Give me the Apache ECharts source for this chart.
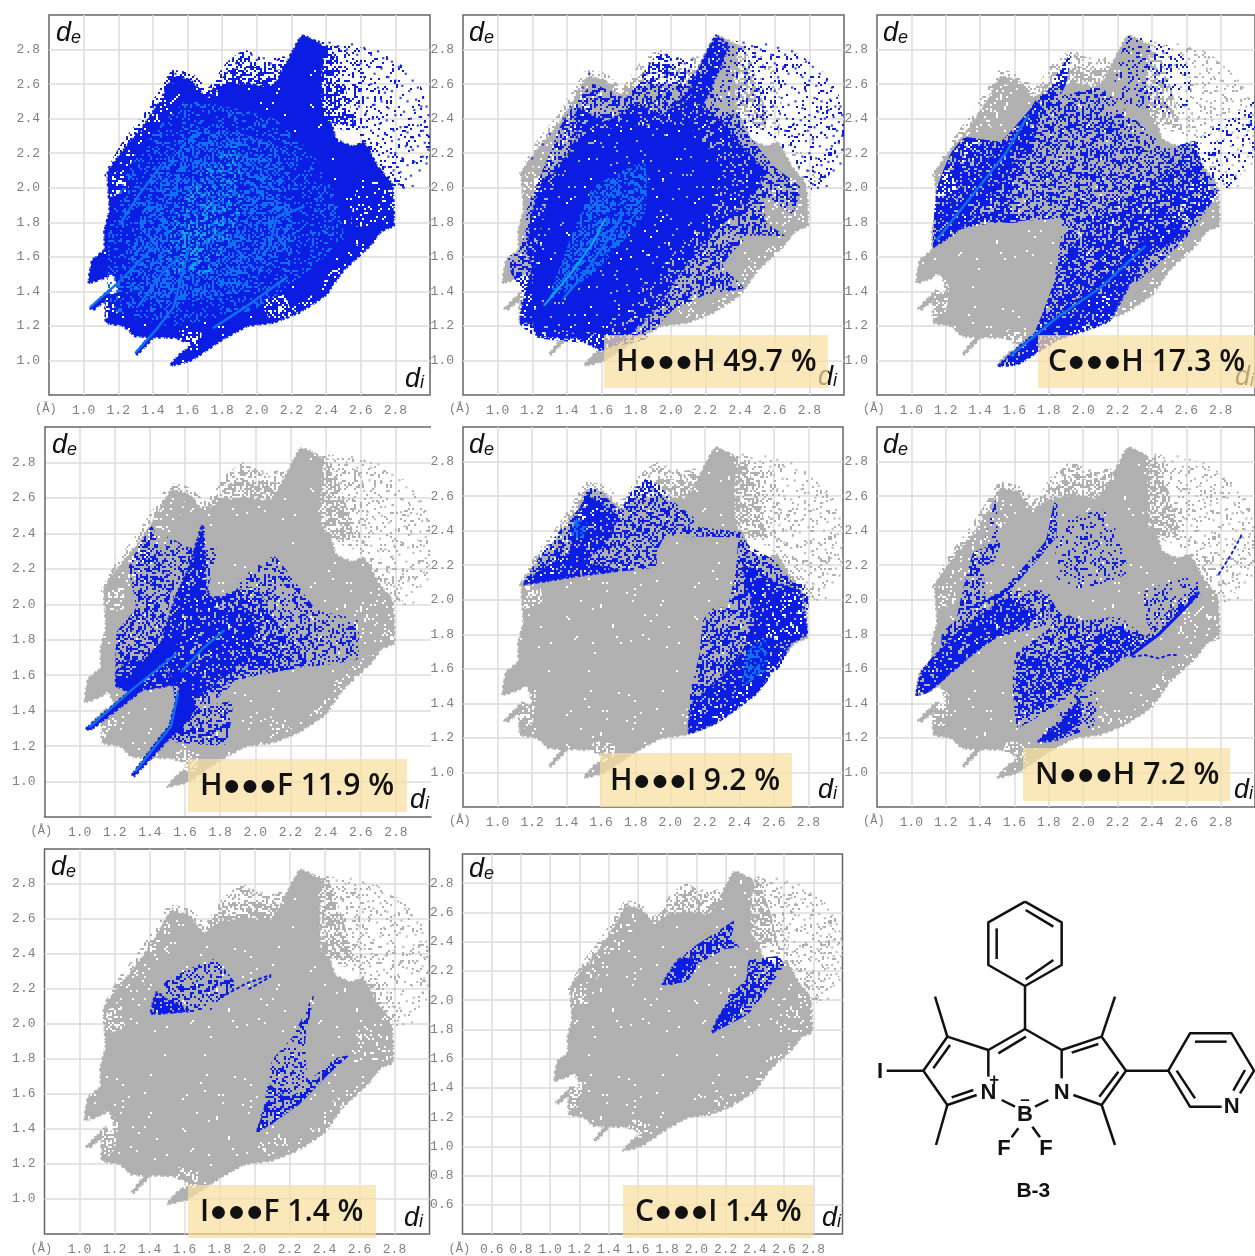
<!DOCTYPE html>
<html><head><meta charset="utf-8">
<style>html,body{margin:0;padding:0;background:#fff;overflow:hidden}#c{width:1255px;height:1256px}</style>
<script src="https://cdn.jsdelivr.net/npm/echarts@6/dist/echarts.min.js"></script>
</head><body><div id="c"></div>
<script>
// ---------- values (di, de) ----------
const tickStep = 0.2;
const cloudCore = [[1.03,1.45],[1.05,1.58],[1.12,1.64],[1.12,1.75],[1.15,1.87],[1.14,2.09],[1.24,2.23],[1.34,2.35],[1.44,2.5],[1.52,2.64],[1.62,2.62],[1.71,2.52],[1.8,2.58],[1.95,2.6],[2.08,2.58],[2.13,2.64],[2.26,2.88],[2.38,2.82],[2.37,2.62],[2.38,2.42],[2.43,2.37],[2.46,2.28],[2.55,2.24],[2.62,2.26],[2.7,2.12],[2.78,2.02],[2.79,1.78],[2.72,1.75],[2.66,1.67],[2.5,1.52],[2.4,1.38],[2.25,1.28],[2.1,1.22],[1.95,1.2],[1.8,1.12],[1.62,1.0],[1.5,0.97],[1.55,1.03],[1.62,1.09],[1.53,1.13],[1.3,1.14],[1.23,1.2],[1.13,1.22],[1.13,1.36],[1.2,1.4],[1.17,1.5],[1.1,1.47]];
const spikeA = [[1.04,1.3],[1.15,1.41],[1.17,1.39],[1.06,1.295]];
const spikeB = [[1.3,1.04],[1.38,1.14],[1.4,1.13],[1.31,1.035]];
const fringeTop = [[1.56,2.56],[1.63,2.66],[1.72,2.58],[1.82,2.72],[1.93,2.8],[2.05,2.74],[2.16,2.76],[2.2,2.62],[2.05,2.5],[1.8,2.5]];
const fringeTopDense = [[1.62,2.55],[1.72,2.55],[1.84,2.68],[1.96,2.7],[2.14,2.68],[2.1,2.52],[1.8,2.5]];
const rimLeft = [[1.12,2.07],[1.22,2.26],[1.32,2.39],[1.42,2.54],[1.51,2.68],[1.62,2.66],[1.6,2.5],[1.42,2.38],[1.3,2.2],[1.2,2.05]];
const arcAll = [[2.3,2.85],[2.45,2.84],[2.7,2.79],[2.85,2.7],[2.95,2.58],[3.0,2.45],[3.0,2.2],[2.92,2.08],[2.82,1.98],[2.78,2.05],[2.6,2.28],[2.45,2.38],[2.3,2.45]];
const arcNear = [[2.26,2.86],[2.42,2.83],[2.6,2.74],[2.64,2.5],[2.62,2.3],[2.42,2.36],[2.3,2.42]];
const arcClose = [[2.26,2.84],[2.42,2.82],[2.5,2.62],[2.56,2.36],[2.3,2.42]];
const arcLow = [[2.6,2.28],[2.72,2.25],[2.82,2.12],[2.84,2.0],[2.78,2.0],[2.68,2.14]];
const holesLeft = [[1.15,1.95],[1.26,1.98],[1.24,2.1],[1.16,2.08]];
const holesNotch = [[1.12,1.24],[1.2,1.28],[1.22,1.45],[1.14,1.5],[1.13,1.36]];
const holesBottom = [[1.52,1.07],[1.66,1.06],[1.68,1.16],[1.56,1.18]];
const holesEdge = [[2.2,1.26],[2.08,1.24],[2.02,1.34],[2.16,1.38]];
const holesRim = [[2.5,1.5],[2.66,1.65],[2.7,1.72],[2.62,1.7],[2.45,1.56],[2.35,1.4],[2.2,1.3],[2.25,1.27],[2.42,1.38]];
const holesRight = [[2.55,1.78],[2.78,1.8],[2.78,2.05],[2.58,2.0]];
const holesUpperLeft = [[1.2,2.12],[1.34,2.34],[1.5,2.6],[1.6,2.58],[1.55,2.45],[1.42,2.3],[1.3,2.12]];
const sparsePts = [[2.42,2.84],[2.47,2.82],[2.52,2.8],[2.55,2.83],[2.58,2.77],[2.62,2.81],[2.66,2.77],[2.7,2.79],[2.73,2.75],[2.78,2.73],[2.82,2.7],[2.86,2.66],[2.9,2.62],[2.93,2.58],[2.96,2.52],[2.98,2.47],[2.99,2.42],[2.6,2.72],[2.65,2.7],[2.68,2.66],[2.72,2.69],[2.76,2.64],[2.8,2.62],[2.84,2.59],[2.88,2.56],[2.92,2.51],[2.95,2.47],[2.62,2.64],[2.66,2.6],[2.7,2.58],[2.74,2.55],[2.78,2.56],[2.83,2.52],[2.87,2.5],[2.91,2.45],[2.94,2.41],[2.97,2.38],[2.6,2.56],[2.64,2.52],[2.68,2.48],[2.72,2.5],[2.76,2.46],[2.8,2.42],[2.85,2.44],[2.89,2.4],[2.93,2.36],[2.96,2.33],[2.99,2.3],[2.59,2.47],[2.63,2.43],[2.67,2.4],[2.71,2.37],[2.75,2.39],[2.79,2.33],[2.83,2.35],[2.87,2.32],[2.9,2.29],[2.94,2.3],[2.97,2.26],[2.99,2.22],[2.62,2.35],[2.66,2.33],[2.7,2.3],[2.74,2.31],[2.78,2.27],[2.82,2.28],[2.86,2.24],[2.9,2.22],[2.93,2.24],[2.96,2.18],[2.98,2.14],[2.8,2.2],[2.84,2.17],[2.87,2.13],[2.91,2.15],[2.94,2.1],[2.83,2.09],[2.86,2.05],[2.89,2.07],[2.82,2.02],[2.85,2.0],[2.9,2.01],[2.76,2.18],[2.74,2.12],[2.79,2.1],[1.97,2.77],[2.0,2.74],[2.04,2.75],[2.08,2.72],[2.12,2.74],[1.88,2.72],[1.53,2.66],[1.49,2.58],[1.42,2.47],[1.38,2.4],[1.3,2.31],[1.26,2.25],[1.2,2.17]];
// H...H
const hhMid = [[1.06,1.6],[1.12,1.63],[1.16,1.75],[1.17,1.88],[1.28,2.15],[1.36,2.35],[1.44,2.48],[1.55,2.6],[1.65,2.56],[1.74,2.52],[1.84,2.66],[1.93,2.78],[2.1,2.55],[2.35,2.42],[2.6,2.12],[2.75,2.0],[2.7,1.85],[2.55,1.95],[2.55,1.8],[2.66,1.72],[2.45,1.72],[2.3,1.55],[2.42,1.42],[2.2,1.38],[2.0,1.28],[1.85,1.12],[1.65,1.08],[1.5,1.1],[1.23,1.13],[1.13,1.21],[1.14,1.4],[1.08,1.5]];
const hhDense = [[1.13,1.22],[1.2,1.22],[1.23,1.14],[1.46,1.13],[1.6,1.06],[1.72,1.12],[1.9,1.28],[2.05,1.5],[2.2,1.7],[2.36,1.85],[2.5,2.0],[2.54,2.1],[2.4,2.25],[2.27,2.4],[2.15,2.48],[2.1,2.55],[1.95,2.42],[1.81,2.48],[1.62,2.38],[1.46,2.46],[1.46,2.3],[1.35,2.1],[1.27,2.05],[1.21,1.89],[1.17,1.64],[1.2,1.55],[1.16,1.38]];
const hhCore = [[1.2,1.25],[1.55,1.15],[1.9,1.5],[2.2,1.85],[2.3,2.1],[2.1,2.35],[1.75,2.35],[1.5,2.3],[1.3,1.95],[1.22,1.6]];
const hhSpike = [[2.08,2.5],[2.26,2.88],[2.33,2.82],[2.22,2.55],[2.15,2.42]];
const hhTop = [[1.84,2.5],[1.93,2.78],[2.12,2.72],[2.14,2.5]];
const hhUpper = [[2.26,2.85],[2.5,2.78],[2.58,2.5],[2.5,2.3],[2.3,2.4],[2.2,2.55]];
const hhGlowA = [[1.27,1.32],[1.42,1.5],[1.55,1.68],[1.62,1.82]];
const hhGlowB = [[1.38,1.36],[1.5,1.5],[1.65,1.72],[1.72,1.85]];
const hhGlowArea = [[1.3,1.35],[1.55,1.5],[1.85,1.85],[1.85,2.15],[1.55,2.0],[1.4,1.65]];
// C...H
const chBand = [[1.13,1.8],[1.15,2.0],[1.23,2.2],[1.31,2.29],[1.52,2.27],[1.67,2.42],[1.75,2.54],[1.95,2.52],[2.1,2.5],[2.2,2.35],[2.4,2.2],[2.65,2.27],[2.7,2.1],[2.78,1.97],[2.6,1.71],[2.3,1.45],[2.0,1.6],[1.84,1.5],[1.88,1.77],[1.85,1.82],[1.44,1.79],[1.25,1.75],[1.13,1.66]];
const chUpper = [[1.13,1.66],[1.25,1.75],[1.45,1.8],[1.62,1.8],[1.55,1.95],[1.7,2.2],[1.74,2.5],[1.66,2.42],[1.52,2.27],[1.31,2.29],[1.23,2.2],[1.15,2.0],[1.13,1.8]];
const chUpperDense = [[1.13,1.66],[1.28,1.76],[1.5,2.0],[1.72,2.32],[1.74,2.5],[1.6,2.3],[1.4,2.12],[1.2,1.86]];
const chNeedle = [[1.72,2.42],[1.86,2.68],[1.93,2.78],[1.9,2.6],[1.8,2.42]];
const chLower = [[1.51,0.97],[1.62,0.98],[1.85,1.12],[2.15,1.23],[2.17,1.35],[2.36,1.6],[2.6,1.71],[2.65,1.83],[2.77,1.96],[2.68,2.12],[2.65,2.27],[2.55,2.15],[2.4,2.05],[2.3,1.95],[2.12,1.9],[2.0,1.73],[1.9,1.62],[1.83,1.45],[1.71,1.15]];
const chLowerEdge = [[1.51,0.97],[1.62,0.98],[1.85,1.12],[2.15,1.23],[2.36,1.6],[2.6,1.73],[2.45,1.78],[2.2,1.55],[1.9,1.3],[1.65,1.1]];
const chTopRight = [[2.18,2.6],[2.26,2.88],[2.5,2.82],[2.62,2.72],[2.62,2.5],[2.55,2.42],[2.2,2.5]];
const chFarRight = [[2.65,2.25],[2.9,2.45],[3.0,2.5],[3.0,2.2],[2.85,2.0],[2.75,1.98]];
const chTopBand = [[1.75,2.5],[1.95,2.55],[2.1,2.58],[2.35,2.35],[2.5,2.2],[1.95,2.2]];
const chGlowA = [[1.15,1.7],[1.35,1.95],[1.55,2.2],[1.68,2.42]];
const chGlowB = [[1.58,1.03],[1.85,1.25],[2.1,1.42],[2.36,1.66]];
// H...F
const hfLeft = [[1.21,1.54],[1.28,1.51],[1.54,1.55],[1.56,1.72],[1.5,1.9],[1.52,2.1],[1.49,2.23],[1.41,2.44],[1.28,2.21],[1.32,1.98],[1.21,1.84]];
const hfLeftDense = [[1.21,1.54],[1.28,1.51],[1.54,1.55],[1.45,1.66],[1.28,1.68],[1.21,1.62]];
const hfStar = [[1.56,1.55],[1.45,1.7],[1.5,1.9],[1.55,2.05],[1.62,2.2],[1.7,2.45],[1.72,2.1],[1.8,1.95],[1.95,1.95],[2.0,1.85],[1.95,1.7],[1.85,1.62],[1.7,1.5],[1.6,1.45]];
const hfWing = [[1.75,1.44],[1.9,1.57],[2.24,1.64],[2.58,1.69],[2.58,1.91],[2.35,1.97],[2.11,2.27],[1.94,2.16],[1.86,2.04],[1.7,2.05],[1.55,1.9],[1.54,1.27]];
const hfWingIn = [[1.55,1.4],[1.9,1.58],[2.3,1.66],[2.1,1.95],[2.0,2.1],[1.8,2.05],[1.55,1.95]];
const hfUpperMid = [[1.48,2.25],[1.5,2.38],[1.62,2.32],[1.78,2.32],[1.7,2.0],[1.55,2.0]];
const hfBottom = [[1.51,1.23],[1.83,1.21],[1.87,1.45],[1.7,1.42],[1.56,1.35]];
const hfSpikeA = [[1.04,1.3],[1.3,1.52],[1.36,1.52],[1.06,1.29]];
const hfSpikeB = [[1.3,1.04],[1.5,1.3],[1.56,1.3],[1.31,1.03]];
const hfWedgeA = [[1.28,1.5],[1.56,1.76],[1.48,1.8],[1.26,1.56]];
const hfWedgeB = [[1.5,1.26],[1.58,1.55],[1.66,1.42],[1.56,1.28]];
const hfGlowA = [[1.06,1.31],[1.3,1.52],[1.55,1.72]];
const hfGlowB = [[1.32,1.06],[1.52,1.31],[1.56,1.5]];
const hfGlowC = [[1.58,1.62],[1.7,1.75],[1.82,1.85]];
// H...I
const hiLobe = [[1.15,2.09],[1.48,2.14],[1.92,2.19],[1.92,2.27],[1.96,2.35],[2.15,2.46],[2.0,2.58],[1.94,2.66],[1.86,2.7],[1.77,2.62],[1.71,2.52],[1.59,2.63],[1.52,2.65],[1.48,2.54],[1.36,2.4],[1.23,2.23]];
const hiLobeDense = [[1.15,2.09],[1.48,2.14],[1.7,2.17],[1.5,2.22],[1.62,2.32],[1.69,2.48],[1.52,2.6],[1.44,2.42],[1.42,2.28],[1.24,2.16]];
const hiThin = [[1.85,2.38],[2.4,2.36],[2.41,2.39],[2.0,2.44],[1.85,2.43]];
const hiRight = [[2.4,2.385],[2.38,2.17],[2.33,1.96],[2.25,1.95],[2.19,1.88],[2.17,1.69],[2.11,1.44],[2.11,1.23],[2.27,1.285],[2.5,1.46],[2.65,1.63],[2.7,1.75],[2.74,1.77],[2.79,1.81],[2.8,2.0],[2.77,2.1],[2.71,2.1],[2.6,2.23],[2.46,2.31]];
const hiRightDense = [[2.42,2.2],[2.6,2.1],[2.75,2.05],[2.79,1.8],[2.7,1.75],[2.5,1.46],[2.27,1.29],[2.11,1.23],[2.13,1.4],[2.3,1.55],[2.45,1.75],[2.47,2.0]];
const hiGlow = [[2.42,1.5],[2.56,1.6],[2.55,1.78],[2.44,1.7]];
const hiGlow2 = [[1.43,2.36],[1.5,2.36],[1.52,2.46],[1.45,2.46]];
// N...H
const nhTip = [[1.03,1.45],[1.09,1.46],[1.17,1.52],[1.36,1.68],[1.5,1.78],[1.79,1.86],[1.79,2.05],[1.62,2.05],[1.52,2.05],[1.31,1.92],[1.18,1.81],[1.17,1.72],[1.065,1.6]];
const nhTipDense = [[1.03,1.45],[1.1,1.47],[1.3,1.64],[1.5,1.8],[1.72,1.9],[1.55,2.0],[1.32,1.85],[1.18,1.72],[1.06,1.58]];
const nhBranchA = [[1.26,1.85],[1.36,2.27],[1.52,2.33],[1.47,2.2],[1.42,2.2],[1.43,1.98]];
const nhBranchTop = [[1.42,2.3],[1.49,2.58],[1.5,2.5],[1.5,2.3]];
const nhBranchB = [[1.5,2.02],[1.78,2.34],[1.83,2.56],[1.85,2.56],[1.84,2.36],[1.58,2.06]];
const nhUpper = [[1.84,2.35],[1.88,2.45],[2.12,2.52],[2.24,2.3],[2.25,2.15],[2.0,2.06],[1.85,2.12]];
const nhCenter = [[1.79,2.06],[1.81,1.845],[1.61,1.69],[1.59,1.52],[1.62,1.26],[1.98,1.48],[2.19,1.63],[2.365,1.73],[2.67,2.04],[2.55,1.98],[2.365,1.79],[2.21,1.9],[2.0,1.88],[1.85,1.94]];
const nhCenterDense = [[1.81,1.68],[1.62,1.64],[1.62,1.32],[1.95,1.5],[2.2,1.64],[2.36,1.75],[2.2,1.84],[2.0,1.74]];
const nhRightLine = [[2.28,1.68],[2.44,1.8],[2.6,1.96],[2.67,2.04]];
const nhRightBox = [[2.36,2.05],[2.66,2.14],[2.68,2.02],[2.4,1.82],[2.36,1.9]];
const nhBottom = [[1.74,1.18],[1.98,1.48],[2.08,1.46],[2.06,1.27],[1.865,1.19]];
const nhBottomDense = [[1.74,1.18],[1.88,1.3],[1.98,1.42],[1.98,1.3],[1.85,1.19]];
const nhFarLine = [[2.79,2.15],[2.86,2.26],[2.92,2.37]];
const nhDotRow = [[2.29,1.67],[2.36,1.68],[2.44,1.66],[2.5,1.68],[2.56,1.68]];
// I...F
const ifLeft = [[1.41,2.06],[1.75,2.08],[1.84,2.17],[1.9,2.22],[1.77,2.37],[1.5,2.25],[1.43,2.15]];
const ifLeftDense = [[1.41,2.06],[1.62,2.08],[1.5,2.14],[1.44,2.18]];
const ifThin = [[1.84,2.17],[1.95,2.23],[2.09,2.28],[2.09,2.27],[1.95,2.19]];
const ifRight = [[2.01,1.375],[2.26,1.545],[2.41,1.7],[2.45,1.8],[2.31,1.68],[2.29,1.9],[2.34,2.17],[2.22,1.93],[2.1,1.79],[2.08,1.62]];
const ifRightDense = [[2.01,1.375],[2.26,1.545],[2.41,1.7],[2.54,1.82],[2.45,1.8],[2.34,1.66],[2.18,1.58],[2.08,1.66],[2.05,1.5]];
// C...I
const ciLeft = [[1.77,2.11],[1.94,2.13],[2.02,2.25],[2.2,2.35],[2.295,2.36],[2.24,2.43],[2.27,2.55],[2.16,2.48],[1.94,2.335],[1.84,2.2]];
const ciRight = [[2.11,1.78],[2.36,1.91],[2.6,2.24],[2.56,2.3],[2.36,2.27],[2.34,2.14],[2.22,2.03],[2.16,1.89]];
const ciRightDense = [[2.11,1.78],[2.2,1.84],[2.34,2.0],[2.22,1.98],[2.14,1.86]];
const ciLeftDense = [[1.77,2.11],[1.86,2.12],[2.0,2.28],[1.88,2.28]];
// glow of the full plot
const fullGlowWide = [[1.15,1.3],[1.5,1.2],[2.0,1.3],[2.5,1.7],[2.4,2.1],[2.1,2.4],[1.6,2.5],[1.3,2.2],[1.15,1.8]];
const fullGlow = [[1.25,1.45],[1.45,1.32],[1.9,1.4],[2.2,1.7],[2.1,2.25],[1.65,2.35],[1.38,2.0]];
const fullGlowCore = [[1.48,1.5],[1.75,1.52],[1.92,1.9],[1.88,2.25],[1.68,2.1],[1.5,1.8]];
const fullGlowHot = [[1.55,1.58],[1.68,1.6],[1.72,1.85],[1.6,1.82]];
const fullStreaks = [
  [[1.04,1.31],[1.2,1.45],[1.4,1.655]],
  [[1.305,1.05],[1.42,1.18],[1.52,1.31],[1.61,1.655]],
  [[1.75,1.19],[1.95,1.32],[2.17,1.48]],
  [[1.21,1.79],[1.32,1.96],[1.44,2.12]],
  [[2.07,1.655],[2.115,1.83],[2.27,1.89]],
  [[1.32,1.32],[1.45,1.5],[1.55,1.6]]
];
const contactLabels = ['H●●●H 49.7 %','C●●●H 17.3 %','H●●●F 11.9 %','H●●●I 9.2 %','N●●●H 7.2 %','I●●●F 1.4 %','C●●●I 1.4 %'];

// ---------- dither texture for the speckled fills (style only, not data) ----------
const CELLS = 64, CELL = 2;
function cellRank(cx, cy) {           // fixed integer mix, same every run
  let h = Math.imul(cx + 1, 73856093) ^ Math.imul(cy + 1, 19349663);
  h = Math.imul(h ^ (h >>> 13), 1274126177);
  h = Math.imul(h ^ (h >>> 16), 40503);
  return ((h ^ (h >>> 15)) >>> 0) % 1000 / 1000;
}
function tile(color, coverage, invert) {
  const size = CELLS * CELL, cv = document.createElement('canvas');
  cv.width = cv.height = size;
  const g = cv.getContext('2d');
  g.fillStyle = color;
  g.filter = 'blur(0.35px)';
  for (let y = 0; y < CELLS; y++) for (let x = 0; x < CELLS; x++) {
    const r = cellRank(x, y);
    if (invert ? r > 1 - coverage : r < coverage) g.fillRect(x * CELL, y * CELL, CELL, CELL);
  }
  return {image: cv, repeat: 'repeat'};
}
const BLUE = '#0b1de2', GRAY = '#b0b0b0', SKY = '#0f70f0', CYAN = '#12a4ee';
const FUZZ = {lineWidth: 2.5, lineDash: [2, 1, 1, 3, 3, 2]};
const S = {
  gray:{fill:GRAY,fuzz:GRAY}, blue:{fill:BLUE,fuzz:BLUE},
  g60:{fill:tile(GRAY,.6)}, g30:{fill:tile(GRAY,.3)}, g20:{fill:tile(GRAY,.2)}, g10:{fill:tile(GRAY,.1)},
  b97:{fill:tile(BLUE,.97),fuzz:BLUE}, b85:{fill:tile(BLUE,.85),fuzz:BLUE}, b70:{fill:tile(BLUE,.7)}, b60:{fill:tile(BLUE,.6)}, b45:{fill:tile(BLUE,.45)},
  b30:{fill:tile(BLUE,.3)}, b20:{fill:tile(BLUE,.2)}, b15:{fill:tile(BLUE,.15)}, b10:{fill:tile(BLUE,.1)},
  w30:{fill:tile('#fff',.3,true)}, w10:{fill:tile('#fff',.1,true)}, w02:{fill:tile('#fff',.012,true)},
  s20:{fill:tile(SKY,.2,true)}, s45:{fill:tile(SKY,.45,true)}, c15:{fill:tile(CYAN,.15,true)}, c35:{fill:tile(CYAN,.35,true)},
  skyLine:{stroke:SKY,width:2.4}, cyanLine:{stroke:CYAN,width:2}, blueLine:{stroke:BLUE,width:3}, blueDash:{stroke:BLUE,width:2,dash:[2,4]}
};
const grayBase = [[arcAll,'g10'],[arcNear,'g20'],[arcClose,'g60'],[arcLow,'g20'],[fringeTop,'g30'],[fringeTopDense,'g60'],[rimLeft,'g30'],[cloudCore,'gray'],[spikeA,'gray'],[spikeB,'gray'],
  [cloudCore,'w02'],[holesLeft,'w30'],[holesNotch,'w30'],[holesBottom,'w30'],[holesEdge,'w10'],[holesRim,'w10'],[holesRight,'w10'],[holesUpperLeft,'w10']];
const PANELS = [
 {box:[49,15,381,380],min:0.8,pt:BLUE,de:[56,41],di:[405,387],layers:[
   [arcAll,'b10'],[arcNear,'b20'],[arcClose,'b60'],[arcLow,'b20'],[fringeTop,'b30'],[fringeTopDense,'b60'],[rimLeft,'b30'],[cloudCore,'blue'],[spikeA,'blue'],[spikeB,'blue'],
   [cloudCore,'w02'],[holesLeft,'w30'],[holesNotch,'w30'],[holesBottom,'w30'],[holesEdge,'w30'],[holesRim,'w10'],[holesRight,'w10'],[holesUpperLeft,'w10'],
   [fullGlowWide,'s20'],[fullGlow,'s45'],[fullGlowCore,'c15'],[fullGlowHot,'c35'],...fullStreaks.map(s=>[s,'skyLine'])]},
 {box:[463,15,381,380],min:0.8,pt:BLUE,de:[469,41],di:[818,385],label:0,lb:[604,335,224,53,616],layers:[...grayBase,
   [arcAll,'b10'],[hhMid,'b45'],[hhDense,'b85'],[hhCore,'b97'],[hhSpike,'b85'],[hhTop,'b30'],[hhUpper,'b15'],[hhGlowArea,'s45'],[hhGlowA,'cyanLine'],[hhGlowB,'skyLine']]},
 {box:[877,15,381,380],min:0.8,pt:GRAY,de:[883,41],di:[1235,385],label:1,lb:[1038,335,220,53,1048],layers:[...grayBase,
   [chTopBand,'b30'],[chBand,'b45'],[chUpper,'b70'],[chUpperDense,'b85'],[chNeedle,'b60'],[chLower,'b70'],[chLowerEdge,'b85'],[chTopRight,'b15'],[chFarRight,'b15'],[chGlowA,'skyLine'],[chGlowB,'skyLine']]},
 {box:[44.5,427,386.5,390],min:0.8,pt:GRAY,noRight:true,de:[52,453],di:[410,808],label:2,lb:[188,759,219,53,200],layers:[...grayBase,
   [hfLeft,'b45'],[hfLeftDense,'b85'],[hfUpperMid,'b30'],[hfWing,'b30'],[hfWingIn,'b60'],[hfBottom,'b45'],[hfStar,'b85'],[hfWedgeA,'blue'],[hfWedgeB,'blue'],[hfSpikeA,'blue'],[hfSpikeB,'blue'],[hfGlowA,'skyLine'],[hfGlowB,'skyLine'],[hfGlowC,'skyLine']]},
 {box:[463,427,380,380],min:0.8,pt:GRAY,de:[469,453],di:[818,798],label:3,lb:[600,753,192,54,610],layers:[...grayBase,
   [hiLobe,'b45'],[hiLobeDense,'b85'],[hiThin,'b45'],[hiRight,'b45'],[hiRightDense,'b85'],[hiGlow,'s45'],[hiGlow2,'s45']]},
 {box:[877,427,381,380],min:0.8,pt:GRAY,de:[883,453],di:[1234,798],label:4,lb:[1023,748,207,53,1035],layers:[...grayBase,
   [nhTip,'b45'],[nhTipDense,'b85'],[nhBranchA,'b45'],[nhBranchTop,'b20'],[nhBranchB,'b60'],[nhUpper,'b20'],[nhCenter,'b45'],[nhCenterDense,'b70'],[nhRightBox,'b20'],[nhBottom,'b30'],[nhBottomDense,'b85'],[nhRightLine,'blueLine'],[nhFarLine,'blueDash'],[nhDotRow,'blueDash']]},
 {box:[44.5,849,385,386],min:0.8,pt:GRAY,de:[51,875],di:[404,1226],label:5,lb:[188,1185,188,53,200],layers:[...grayBase,
   [ifLeft,'b30'],[ifLeftDense,'b85'],[ifThin,'blueDash'],[ifRight,'b30'],[ifRightDense,'b60']]},
 {box:[462.5,854,380,381],min:0.4,pt:GRAY,de:[469,877],di:[822,1226],label:6,lb:[623,1185,190,53,635],layers:[...grayBase,
   [ciLeft,'b60'],[ciRight,'b60'],[ciLeftDense,'b85'],[ciRightDense,'b85']]}
];
const TICK = {fontFamily:'"Liberation Mono",monospace',fontSize:13,color:'#808080'};
const grids=[],xs=[],ys=[],series=[],gfx=[];
function lbl(v){return v.toFixed(1);}
PANELS.forEach((p,i)=>{
  const [l,t,w,h]=p.box;
  grids.push({left:l,top:t,width:w,height:h,show:!p.noRight,borderColor:'#666',borderWidth:1.5,backgroundColor:'#fff'});
  const axisBase = {type:'value',min:p.min,max:3.0,interval:tickStep,axisTick:{show:false},
    splitLine:{show:true,showMinLine:false,showMaxLine:false,lineStyle:{color:'#dcdcdc',width:1.5}},
    axisLine:{show:!!p.noRight,onZero:false,lineStyle:{color:'#666',width:1.5}},
    axisLabel:{...TICK,margin:9,interval:0,showMinLabel:false,showMaxLabel:false,formatter:lbl}};
  xs.push({...axisBase,gridIndex:i});
  ys.push({...axisBase,gridIndex:i});
  const layers=p.layers;
  series.push({type:'custom',coordinateSystem:'cartesian2d',xAxisIndex:i,yAxisIndex:i,silent:true,animation:false,clip:true,z:3,
    data:layers.map(a=>[a[0][0][0],a[0][0][1]]),
    renderItem(params,api){
      const [pts,key]=layers[params.dataIndex];const st=S[key];
      const c=pts.map(q=>api.coord(q));
      if(st.stroke) return {type:'polyline',shape:{points:c},style:{stroke:st.stroke,lineWidth:st.width,fill:'none',lineDash:st.dash||null,lineCap:'round'}};
      const style={fill:st.fill,stroke:null};
      if(st.fuzz){style.stroke=st.fuzz;style.lineWidth=FUZZ.lineWidth;style.lineDash=FUZZ.lineDash;}
      return {type:'polygon',shape:{points:c,smooth:0.12},style};
    }});
  series.push({type:'scatter',xAxisIndex:i,yAxisIndex:i,silent:true,animation:false,z:4,symbol:'rect',symbolSize:2.2,
    itemStyle:{color:p.pt},data:sparsePts});
  const it=(x,y,s,size)=>({type:'text',z:5,x,y,silent:true,style:{text:s,fontFamily:'"Liberation Sans"',fontStyle:'italic',fontSize:size,fill:'#111',verticalAlign:'bottom'}});
  gfx.push(it(p.de[0],p.de[1]+6,'d',27),it(p.de[0]+15,p.de[1]+6,'e',18));
  gfx.push(it(p.di[0],p.di[1]+6,'d',27),it(p.di[0]+15,p.di[1]+5,'i',18));
  gfx.push({type:'text',z:5,x:l-14,y:t+h+8,silent:true,style:{text:'(Å)',fontFamily:'"Liberation Mono",monospace',fontSize:12,fill:'#808080'}});
  if(p.noRight) gfx.push({type:'line',z:5,silent:true,shape:{x1:l,y1:t,x2:l+w,y2:t},style:{stroke:'#666',lineWidth:1.5}});
  if(p.lb){
    const [bx,by,bw,bh,tx]=p.lb;
    gfx.push({type:'rect',z:6,silent:true,shape:{x:bx,y:by,width:bw,height:bh},style:{fill:'rgba(248,222,160,0.72)'}});
    gfx.push({type:'text',z:7,x:tx,y:by+bh/2+1,silent:true,style:{text:contactLabels[p.label],fontFamily:'"Open Sans",sans-serif',fontWeight:600,fontSize:30,fill:'#111',verticalAlign:'middle'}});
  }
});
// ---------- molecule (zoom coordinates of the drawing) ----------
const bonds=[[[495,65],[605,127],[605,255],[495,318],[385,255],[385,127],[495,65]],[[497,90],[580,140]],[[410,145],[410,237]],[[497,298],[580,240]],[[495,318],[495,447]],
 [[605,510],[495,447],[385,510],[262,470],[190,572],[262,675],[350,645]],[[498,470],[415,520]],[[270,495],[220,565]],[[275,652],[340,630]],[[385,510],[385,590]],
 [[605,510],[725,470],[798,572],[725,675],[640,645]],[[635,518],[715,492]],[[775,575],[718,650]],[[605,510],[605,595]],
 [[262,470],[225,350]],[[725,470],[765,350]],[[262,675],[228,795]],[[725,675],[765,795]],[[80,572],[190,572]],[[798,572],[925,572]],
 [[1085,680],[990,680],[925,572],[990,460],[1115,460],[1182,572],[1140,640]],[[1005,485],[1100,485]],[[1155,570],[1120,632]],[[1005,655],[950,572]],
 [[425,660],[465,680]],[[525,680],[565,660]],[[475,745],[455,772]],[[517,740],[540,772]]];
const atoms=[['I',60,575],['N',385,640],['N',605,640],['B',495,705],['F',432,808],['F',558,808],['N',1115,682],['+',403,600],['–',495,660]];
const mx=v=>860+v/3,my=v=>880+v/3;
bonds.forEach(b=>gfx.push({type:'polyline',z:5,silent:true,shape:{points:b.map(q=>[mx(q[0]),my(q[1])])},style:{stroke:'#111',lineWidth:2.5,fill:'none',lineJoin:'round'}}));
atoms.forEach(a=>gfx.push({type:'text',z:5,x:mx(a[1]),y:my(a[2]),silent:true,style:{text:a[0],fontFamily:'"Liberation Sans"',fontWeight:'bold',fontSize:(a[0]==='+'||a[0]==='–')?17:22,fill:'#111',align:'center',verticalAlign:'middle'}}));
gfx.push({type:'text',z:5,x:mx(520),y:my(935),silent:true,style:{text:'B-3',fontFamily:'"Liberation Sans"',fontWeight:'bold',fontSize:21,fill:'#111',align:'center',verticalAlign:'middle'}});

const chart=echarts.init(document.getElementById('c'),null,{renderer:'canvas'});
chart.setOption({animation:false,backgroundColor:'#fff',grid:grids,xAxis:xs,yAxis:ys,series,graphic:{elements:gfx}});
</script></body></html>
